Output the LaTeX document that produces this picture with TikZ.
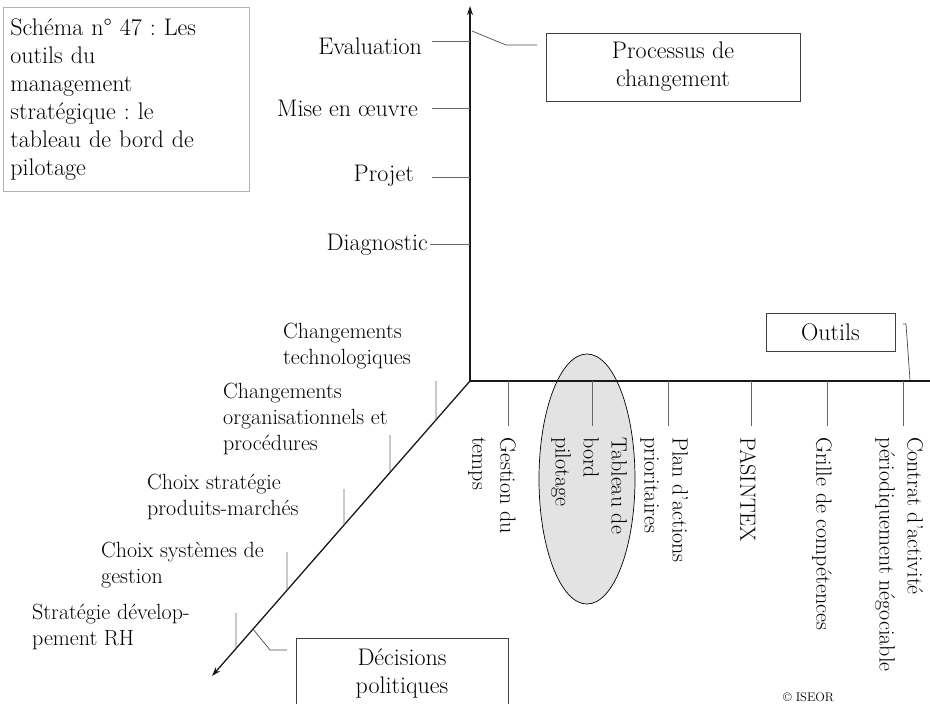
\documentclass[tikz,border=0pt]{standalone}
\usepackage{fontspec}
\usetikzlibrary{arrows.meta,shapes.geometric,calc}
\frenchspacing
\begin{document}
\begin{tikzpicture}[x=1pt,y=-1pt,
  bigfont/.style={font=\fontsize{24}{28}\selectfont},
  big/.style={bigfont, inner sep=0pt},
  small/.style={font=\fontsize{22}{26}\selectfont, inner sep=0pt, align=left, anchor=north west},
  rot/.style={font=\fontsize{22}{28}\selectfont, inner sep=0pt, align=left, rotate=-90, anchor=west},
  axisline/.style={line width=1.3pt, draw=black!90},
  tickline/.style={line width=0.8pt, draw=black!60},
  box/.style={draw=black!75, line width=0.8pt, align=center, bigfont},
  leader/.style={line width=0.7pt, draw=black!70},
  axarrow/.style={-{Stealth[length=9pt,width=6pt]}}
]
\useasboundingbox (0,0) rectangle (930,704);

% title box
\node[draw=black!30, line width=0.8pt, anchor=north west, align=left,
      text width=232pt, inner xsep=7pt, minimum height=184pt, bigfont] (title) at (3,7)
  {Schéma n° 47 : Les\\outils du\\management\\stratégique : le\\tableau de bord de\\pilotage};

% highlighted ellipse
\node[draw=black, line width=0.7pt, fill=black!11, ellipse, minimum width=96pt,
      minimum height=250pt, inner sep=0pt] (ell) at (587,479) {};

% axes
\coordinate (O) at (470,381);
\coordinate (Ytop) at (470,6);
\coordinate (Xend) at (930,381);
\coordinate (Zend) at (212,676);
\draw[axisline, axarrow] (O) -- (Ytop);
\draw[axisline] (O) -- (Xend);
\draw[axisline, axarrow] (O) -- (Zend);

% vertical axis ticks and labels
\foreach \y/\xs in {41/432, 108/432, 177/432, 244/430}
  \draw[tickline] (\xs,\y) -- (470,\y);
\node[big, anchor=east] (eval) at (422,46) {Evaluation};
\node[big, anchor=east] (mise) at (418,108) {Mise en œuvre};
\node[big, anchor=east] (proj) at (414,176) {Projet};
\node[big, anchor=east] (diag) at (428,245) {Diagnostic};

% horizontal axis ticks and labels
\foreach \x in {508, 592, 668, 751, 827, 903}
  \draw[tickline] (\x,381) -- (\x,426);
\node[rot] (gest) at (492,437) {Gestion du\\temps};
\node[rot] (tab) at (589,437) {Tableau de\\bord\\pilotage};
\node[rot] (plan) at (664,437) {Plan d’actions\\prioritaires};
\node[rot] (pas) at (748,437) {PASINTEX};
\node[rot] (grille) at (822,437) {Grille de compétences};
\node[rot] (contrat) at (899,437) {Contrat d’activité\\périodiquement négociable};

% diagonal axis ticks and labels
\foreach \x/\yt in {436/381, 390/435, 344/489, 287/552, 236/613}
  \draw[tickline] (\x,\yt) -- ($(O)!{(470-\x)/258}!(Zend)$);
\node[small] (ct) at (283,322.5) {Changements\\technologiques};
\node[small] (co) at (223,382.5) {Changements\\organisationnels et\\procédures};
\node[small] (cs) at (147,473.5) {Choix stratégie\\produits-marchés};
\node[small] (cg) at (101,541.5) {Choix systèmes de\\gestion};
\node[small] (sd) at (32,603.5) {Stratégie dévelop-\\pement RH};

% boxes
\node[box, minimum width=254pt, minimum height=68pt] (proc) at (673,67) {Processus de\\changement};
\node[box, minimum width=129pt, minimum height=38pt] (out) at (830.5,332) {Outils};
\node[box, minimum width=212pt, anchor=north, inner ysep=10pt] (dec) at (402,638) {Décisions\\politiques};

% leaders
\coordinate (pA) at (472,31);
\coordinate (pB) at (506,45);
\coordinate (pC) at (537,45);
\draw[leader] (pA) -- (pB) -- (pC);
\coordinate (oA) at (903,324);
\coordinate (oB) at (906,324);
\coordinate (oC) at (910,380);
\draw[leader] (oA) -- (oB) -- (oC);
\coordinate (dA) at ($(O)!{(470-253)/258}!(Zend)$);
\coordinate (dB) at (270,650);
\coordinate (dC) at (287,650);
\draw[leader] (dA) -- (dB) -- (dC);

% copyright
\node[font=\fontsize{12.5}{14}\selectfont, inner sep=0pt, anchor=base west] (copy) at (783,701) {© ISEOR};
\end{tikzpicture}
\end{document}
